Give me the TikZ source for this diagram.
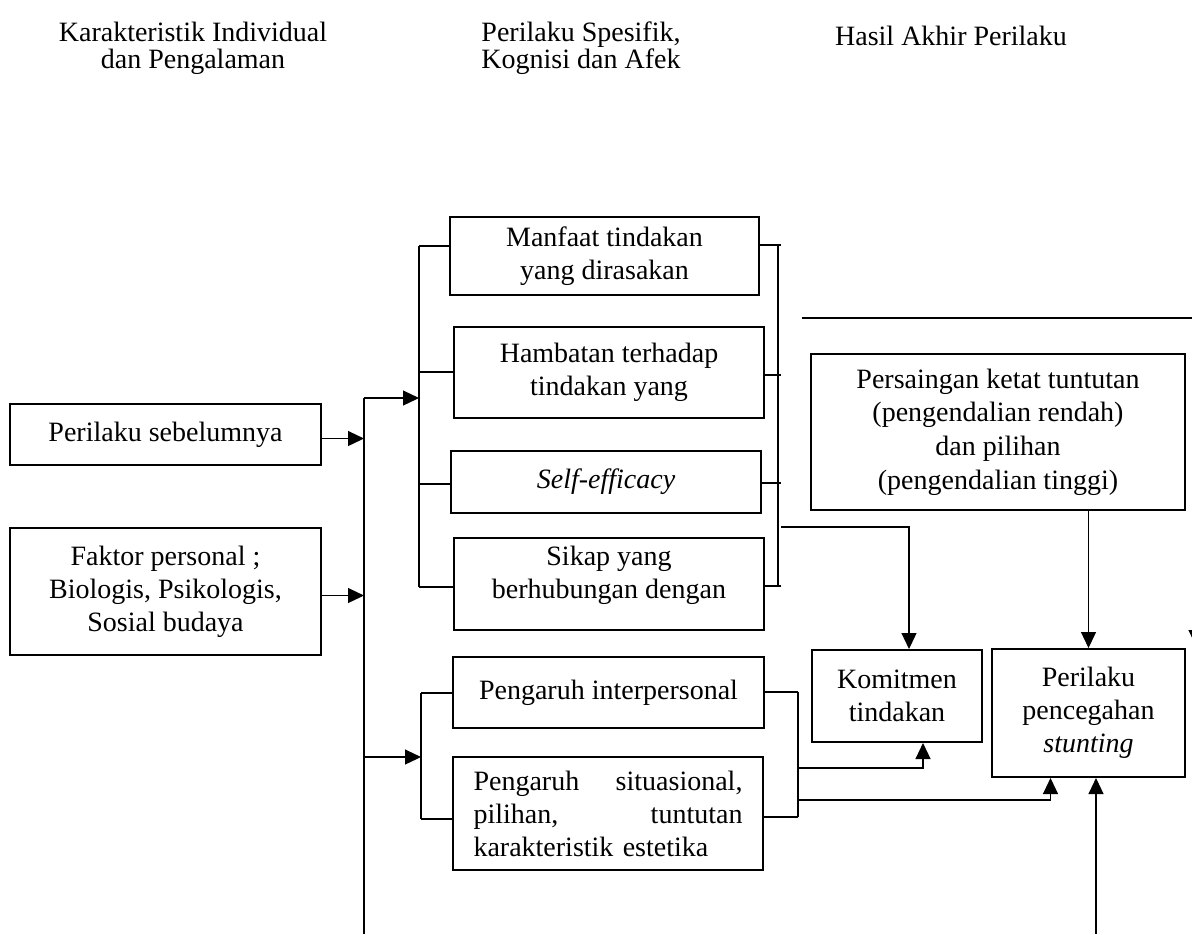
\documentclass[tikz,border=0pt]{standalone}
\usepackage{fontspec}
\setmainfont{Liberation Serif}
\usetikzlibrary{arrows.meta}

\begin{document}
\begin{tikzpicture}[x=0.5pt,y=-0.5pt,>={Triangle[length=8pt,width=7.5pt]},
  box/.style={draw,line width=1pt,align=center,inner sep=0pt,font=\fontsize{14}{16.5}\selectfont},
  head/.style={align=center,font=\fontsize{14}{13.5}\selectfont},
  link/.style={line width=0.6pt}]
  \useasboundingbox (0,0) rectangle (1192,934);
  % judul kolom
  \node[head] (h1) at (193,48) {Karakteristik Individual\\dan Pengalaman};
  \node[head] (h2) at (581,48) {Perilaku Spesifik,\\Kognisi dan Afek};
  \node[head] (h3) at (951,36) {Hasil Akhir Perilaku};
  % kolom kiri
  \node[box,minimum width=155.5pt,minimum height=30.5pt] (prev) at (165.5,434.5) {Perilaku sebelumnya};
  \node[box,minimum width=155.5pt,minimum height=63.5pt] (faktor) at (165.5,591.5) {Faktor personal ;\\Biologis, Psikologis,\\Sosial budaya};
  % kolom tengah
  \node[box,minimum width=154.5pt,minimum height=39pt] (manfaat) at (604.5,256) {Manfaat tindakan\\yang dirasakan};
  \node[box,minimum width=155pt,minimum height=45.5pt] (hambatan) at (609,372.5) {Hambatan terhadap\\tindakan yang};
  \node[box,minimum width=155pt,minimum height=31pt] (self) at (606,482) {\textit{Self-efficacy}};
  \node[box,minimum width=155pt,minimum height=46pt,text height=30pt,text depth=16pt] (sikap) at (609,584) {Sikap yang\\berhubungan dengan};
  \node[box,minimum width=155.5pt,minimum height=35.5pt] (inter) at (608.5,692.5) {Pengaruh interpersonal};
  \node[box,minimum width=155pt,minimum height=56.5pt,text width=134.5pt,align=left] (situ) at (608,813.5)
    {Pengaruh\hfill situasional,\\pilihan,\hfill tuntutan\\karakteristik estetika};
  % kolom kanan
  \node[box,minimum width=187pt,minimum height=78pt,font=\fontsize{14}{16.8}\selectfont] (saing) at (998,432) {Persaingan ketat tuntutan\\(pengendalian rendah)\\dan pilihan\\(pengendalian tinggi)};
  \node[box,minimum width=85pt,minimum height=46pt] (komit) at (897,696) {Komitmen\\tindakan};
  \node[box,minimum width=96.5pt,minimum height=64pt] (cegah) at (1088.5,713) {Perilaku\\pencegahan\\\textit{stunting}};
  % garis utama kiri
  \coordinate (sptop) at (364,398);
  \coordinate (spbot) at (364,934);
  \draw[link] (sptop) -- (spbot);
  \draw[link,->] ([yshift=-2pt]prev.east) -- ([yshift=-2pt]prev.east -| sptop);
  \draw[link,->] ([yshift=-2pt]faktor.east) -- ([yshift=-2pt]faktor.east -| sptop);
  % kurung atas
  \coordinate (ula) at (419,246);
  \coordinate (ulb) at (419,587);
  \draw[link,->] (sptop) -- (sptop -| ula);
  \draw[link] (ula) -- (ulb);
  \foreach \n/\y in {manfaat/246,hambatan/372,self/484,sikap/587}{
    \coordinate (t) at (419,\y);
    \draw[link] (t) -- (t -| \n.west);
  }
  \coordinate (ura) at (778,245);
  \coordinate (urb) at (778,586);
  \draw[link] (ura) -- (urb);
  \foreach \n/\y in {manfaat/245,hambatan/375,self/483,sikap/586}{
    \coordinate (t) at (781,\y);
    \draw[link] (t -| \n.east) -- (t);
  }
  \coordinate (rk) at (781,527);
  \draw[link,->] (rk) -| ([xshift=6pt]komit.north);
  % kurung bawah
  \coordinate (lla) at (421,693);
  \coordinate (llb) at (421,819);
  \coordinate (lm) at (364,757);
  \draw[link,->] (lm) -- (lm -| lla);
  \draw[link] (lla) -- (llb);
  \draw[link] (lla) -- (lla -| inter.west);
  \draw[link] (llb) -- (llb -| situ.west);
  \coordinate (lra) at (798,692);
  \coordinate (lrb) at (798,817);
  \draw[link] (lra) -- (lrb);
  \draw[link] (lra -| inter.east) -- (lra);
  \draw[link] (lrb -| situ.east) -- (lrb);
  \coordinate (lk) at (798,768);
  \coordinate (lc) at (798,800);
  \draw[link,->] (lk) -| ([xshift=13pt]komit.south);
  \draw[link,->] (lc) -| ([xshift=-19pt]cegah.south);
  % kanan
  \draw[link,->] (saing.south -| cegah.north) -- (cegah.north);
  \coordinate (ta) at (802,318);
  \coordinate (tb) at (1196,318);
  \coordinate (tc) at (1196,646);
  \draw[link,->] (ta) -- (tb) -- (tc);
  \coordinate (bt) at (1096,934);
  \draw[link,->] (bt) -- (bt |- cegah.south);
\end{tikzpicture}
\end{document}
